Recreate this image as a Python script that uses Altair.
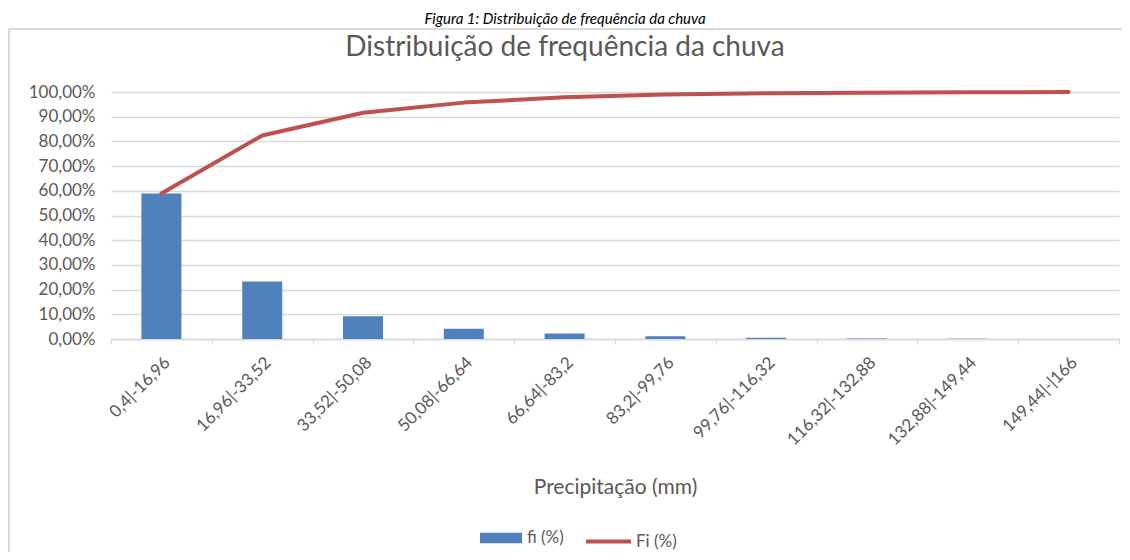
import altair as alt
import pandas as pd

classes = ["0,4|-16,96", "16,96|-33,52", "33,52|-50,08", "50,08|-66,64", "66,64|-83,2",
           "83,2|-99,76", "99,76|-116,32", "116,32|-132,88", "132,88|-149,44", "149,44|-|166"]
fi = [58.9, 23.3, 9.2, 4.1, 2.2, 1.1, 0.5, 0.2, 0.1, 0.05]
Fi = [58.9, 82.4, 91.6, 95.7, 97.9, 99.0, 99.5, 99.7, 99.85, 100.0]

caption = "Figura 1: Distribuição de frequência da chuva"
title = "Distribuição de frequência da chuva"
x_title = "Precipitação (mm)"

df = pd.DataFrame({"classe": classes, "fi": fi, "Fi": Fi})
cap_df = pd.DataFrame({"t": [caption]})
title_df = pd.DataFrame({"t": [title]})

FONT = "Lato"
GREY = "#595959"
LIGHT = "#d9d9d9"

x = alt.X("classe:N", sort=classes,
          scale=alt.Scale(paddingInner=0, paddingOuter=0),
          axis=alt.Axis(title=x_title, labelAngle=-45, tickBand="extent",
                        labelFont=FONT, labelFontSize=17, labelColor=GREY,
                        titleFont=FONT, titleFontSize=21, titleColor=GREY,
                        titleFontWeight="normal", titlePadding=29, labelPadding=10,
                        domainColor=LIGHT, tickColor=LIGHT, tickSize=5,
                        domainWidth=1.5, grid=False, labelOverlap=False))
y_axis = alt.Axis(title=None, values=list(range(0, 101, 10)),
                  labelExpr="replace(format(datum.value, '.2f'), '.', ',') + '%'",
                  labelFont=FONT, labelFontSize=17, labelColor=GREY, labelPadding=16,
                  labelOverlap=False, labelBound=False, labelFlush=False,
                  domain=False, ticks=False, grid=True, gridColor=LIGHT, gridWidth=1.5)

border_left = alt.Chart(cap_df).mark_rect(fill=LIGHT).encode(
    x=alt.value(-103), x2=alt.value(-101), y=alt.value(-64), y2=alt.value(465))
border_top = alt.Chart(cap_df).mark_rect(fill=LIGHT).encode(
    x=alt.value(-103), x2=alt.value(1011), y=alt.value(-64), y2=alt.value(-62))

bars = alt.Chart(df).transform_calculate(serie="'fi (%)'").mark_bar(size=40).encode(
    x=x,
    y=alt.Y("fi:Q", scale=alt.Scale(domain=[0, 100]), axis=y_axis),
    fill=alt.Fill("serie:N", scale=alt.Scale(domain=["fi (%)"], range=["#4f81bd"]),
                  legend=alt.Legend(title=None, orient="none", legendX=369, legendY=425,
                                    symbolType="M-1,-0.25H1V0.25H-1Z", symbolSize=1764,
                                    symbolStrokeWidth=0, symbolOpacity=1,
                                    labelFont=FONT, labelFontSize=17, labelColor=GREY,
                                    labelOffset=5)))

line = alt.Chart(df).transform_calculate(serie="'Fi (%)'").mark_line(
    strokeWidth=4, strokeCap="round", strokeJoin="round").encode(
    x=x,
    y=alt.Y("Fi:Q", axis=y_axis),
    stroke=alt.Stroke("serie:N", scale=alt.Scale(domain=["Fi (%)"], range=["#c0504d"]),
                      legend=alt.Legend(title=None, orient="none", legendX=473, legendY=425,
                                        symbolType="stroke", symbolSize=2025,
                                        symbolStrokeWidth=4,
                                        labelFont=FONT, labelFontSize=17, labelColor=GREY,
                                        labelOffset=3)))

cap = alt.Chart(cap_df).mark_text(font=FONT, fontSize=15, fontStyle="italic", color="#000000",
                                  baseline="alphabetic", align="center").encode(
    text="t:N", x=alt.value(454), y=alt.value(-68))

ttl = alt.Chart(title_df).mark_text(font=FONT, fontSize=28, color=GREY,
                                    baseline="alphabetic", align="center").encode(
    text="t:N", x=alt.value(454), y=alt.value(-36))

chart = alt.layer(border_left, border_top, bars, line, cap, ttl).resolve_legend(
    fill="independent", stroke="independent").properties(
    width=1008, height=247,
    background="white",
    padding={"left": 103, "top": 84, "right": 3, "bottom": 213},
    autosize=alt.AutoSizeParams(type="none"),
).configure_view(strokeWidth=0)

chart.save("out.html", embed_options={"renderer": "svg", "actions": False})
